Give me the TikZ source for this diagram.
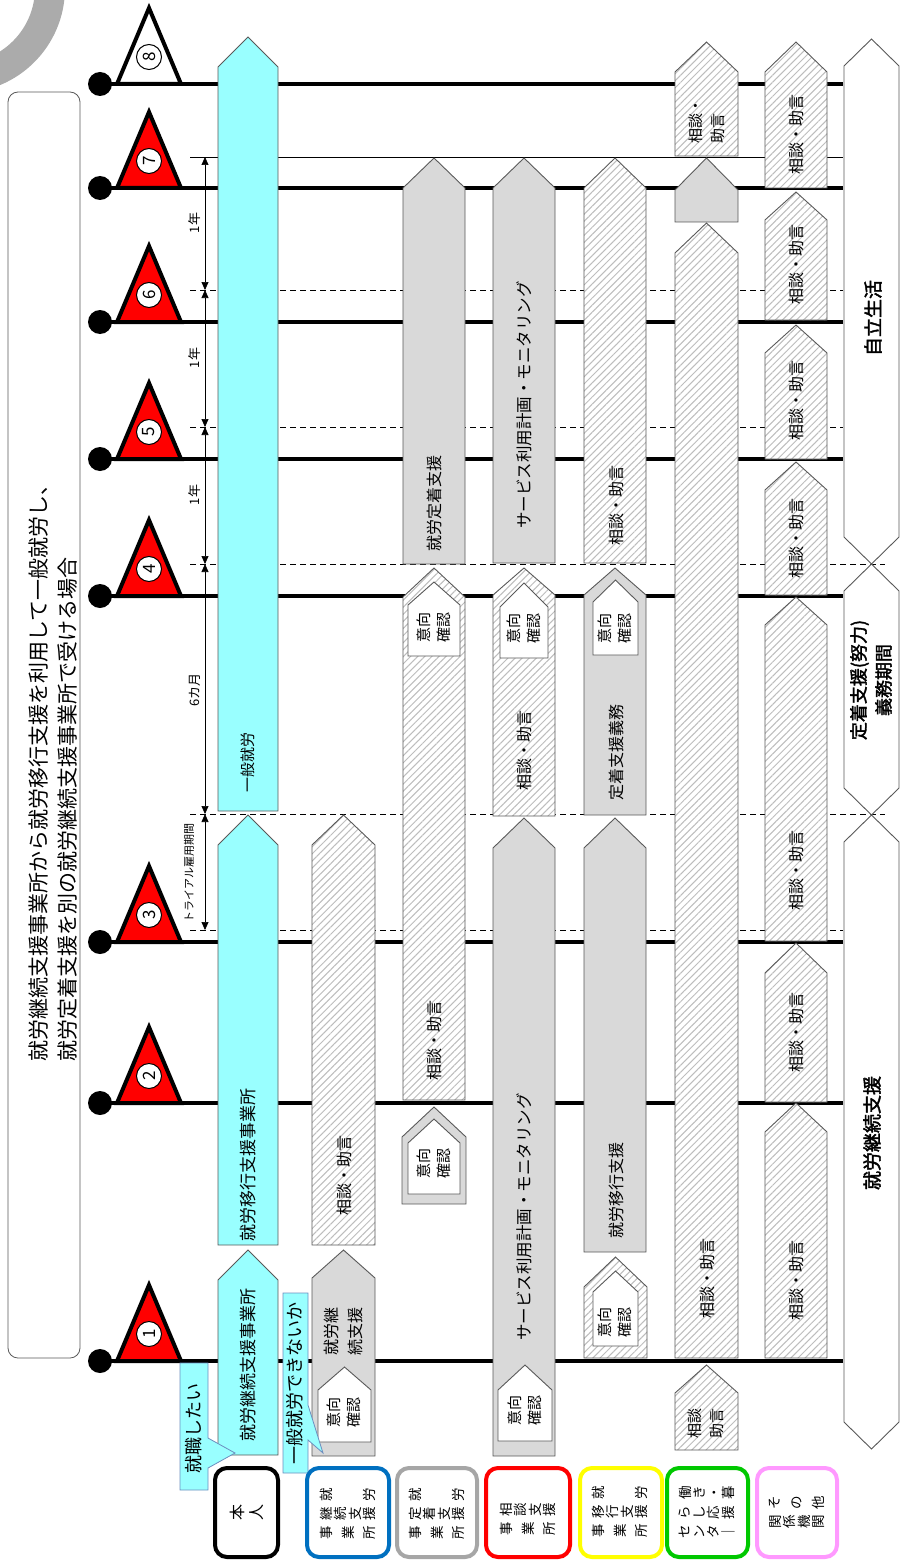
\documentclass[tikz,border=0pt]{standalone}
\usepackage{fontspec}
\setmainfont{Noto Sans CJK JP}[AutoFakeBold=2]
\usetikzlibrary{patterns.meta,arrows.meta}
\definecolor{cyanf}{HTML}{99FFFF}
\definecolor{grayf}{HTML}{D9D9D9}
\definecolor{edge}{HTML}{595959}
\definecolor{hatchc}{HTML}{BDBDBD}
\definecolor{callb}{HTML}{6C8EBF}
\definecolor{legblue}{HTML}{0070C0}
\definecolor{leggray}{HTML}{A6A6A6}
\definecolor{legred}{HTML}{FF0000}
\definecolor{legyellow}{HTML}{FFFF00}
\definecolor{leggreen}{HTML}{00C800}
\definecolor{legpink}{HTML}{FF99FF}
\definecolor{ringgray}{HTML}{ABABAB}
\newcommand\penta[6]{\path[#1] (#2,#6) -- (#2,#5) -- ({(#2+#3)/2},#4) -- (#3,#5) -- (#3,#6) -- cycle;}
\newcommand\hexa[5]{\path[#1] (#2,{#4+27}) -- ({(#2+#3)/2},#4) -- (#3,{#4+27}) -- (#3,{#5-27}) -- ({(#2+#3)/2},#5) -- (#2,{#5-27}) -- cycle;}
\newcommand\fs[2]{\fontsize{#1}{#2}\selectfont}
\begin{document}
\begin{tikzpicture}[x=1pt,y=-1pt,
  cy/.style={fill=cyanf, draw=edge, line width=0.9pt},
  gr/.style={fill=grayf, draw=edge, line width=0.9pt},
  ht/.style={preaction={fill=white}, pattern={Lines[angle=45,distance=5pt,line width=1pt]}, pattern color=hatchc, draw=edge, line width=0.9pt},
  wh/.style={fill=white, draw=edge, line width=0.9pt},
  hx/.style={fill=white, draw=edge, line width=0.9pt},
  callout/.style={fill=cyanf, draw=callb, line width=0.8pt},
  lbl/.style={rotate=90, inner sep=0pt, font=\fs{16}{19}},
  two/.style={rotate=90, inner sep=0pt, align=center, font=\fs{15}{20}},
  leg/.style={rotate=90, inner sep=0pt, align=center, font=\fs{13.5}{14.5}},
  legw/.style={rotate=90, inner sep=0pt, align=center, font=\fs{13.5}{21.75}},
  legbox/.style={line width=4pt, rounded corners=12pt, fill=white},
  thick/.style={line width=4.5pt},
  dashl/.style={line width=0.7pt, dash pattern=on 6pt off 4pt},
  tri/.style={line width=4pt, fill=red, line join=miter},
  numc/.style={circle, draw, line width=1pt, fill=white, minimum size=25pt, inner sep=0pt, rotate=90, font=\fs{17}{17}},
  dim/.style={{Triangle[length=8pt,width=7pt]}-{Triangle[length=8pt,width=7pt]}, line width=0.7pt},
  dimlbl/.style={rotate=90, inner sep=0pt, font=\fs{13}{15}}]
\useasboundingbox (0,0) rectangle (899,1562);
% decorative ring
\draw[ringgray, line width=30pt] (-40,-12) circle[radius=90pt];
% title
\draw[edge, line width=0.8pt, rounded corners=10pt] (8,92) rectangle (80,1358);
\node[rotate=90, anchor=west, align=left, inner sep=0pt, font=\fs{21}{29}] (title) at (53,1062)
  {就労継続支援事業所から就労移行支援を利用して一般就労し、\\就労定着支援を別の就労継続支援事業所で受ける場合};
% thin and dashed guide lines
\draw[line width=0.7pt] (190,157) -- (843,157);
\draw[dashl] (190,290) -- (843,290);
\draw[dashl] (190,427) -- (843,427);
\draw[dashl] (190,564) -- (885,564);
\draw[dashl] (190,814) -- (885,814);
\draw[dashl] (190,930) -- (843,930);
% timeline lines
\foreach \y in {84,188,322,459,596,942,1103,1361}{
  \draw[thick] (100,\y) -- (843,\y);
  \fill (100,\y) circle[radius=12pt];
}
\foreach \y/\n in {188/7,322/6,459/5,596/4,942/3,1103/2,1361/1}{
  \draw[tri] (117,\y) -- (149,{\y-76}) -- (181,\y) -- cycle;
  \node[numc] (n\n) at (149,{\y-27}) {\n};
}
\draw[tri, fill=white] (117,84) -- (149,8) -- (181,84) -- cycle;
\node[numc] (n8) at (149,57) {8};
% dimensions
\draw[dim] (205,157) -- (205,290);
\draw[dim] (205,290) -- (205,427);
\draw[dim] (205,427) -- (205,564);
\draw[dim] (205,564) -- (205,814);
\draw[dim] (205,814) -- (205,930);
\node[dimlbl] (d1) at (195,223) {1年};
\node[dimlbl] (d2) at (195,358) {1年};
\node[dimlbl] (d3) at (195,495) {1年};
\node[dimlbl] (d4) at (195,690) {6カ月};
\node[dimlbl, font=\fs{11}{12}] (d5) at (189,873) {トライアル雇用期間};
% column A (cyan)
\penta{cy}{218}{278}{1250}{1280}{1455}
\node[lbl, font=\fs{17}{20}] (tA1) at (248,1365) {就労継続支援事業所};
\penta{cy}{218}{278}{815}{845}{1245}
\node[lbl, font=\fs{17}{20}] (tA2) at (248,1165) {就労移行支援事業所};
\penta{cy}{218}{278}{37}{67}{811}
\node[lbl, font=\fs{15}{18}] (tA3) at (248,762) {一般就労};
% column B
\penta{gr}{312}{375}{1250}{1278}{1456}
\penta{wh}{318}{371}{1367}{1390}{1442}
\node[rotate=90, inner sep=0pt, align=center, font=\fs{16}{24}] (tB1) at (343,1331) {就労継\\続支援};
\node[two] (iB1) at (344,1412) {意向\\確認};
\penta{ht}{312}{375}{815}{845}{1245}
\node[lbl] (tB2) at (344,1175) {相談・助言};
% column C
\penta{gr}{402}{466}{1107}{1137}{1204}
\penta{wh}{408}{460}{1119}{1143}{1194}
\node[two] (iC1) at (434,1163) {意向\\確認};
\penta{ht}{403}{465}{568}{597}{1100}
\penta{wh}{408}{460}{582}{605}{656}
\node[two] (iC2) at (434,627) {意向\\確認};
\node[lbl] (tC2) at (434,1040) {相談・助言};
\penta{gr}{403}{465}{158}{188}{564}
\node[lbl] (tC3) at (434,503) {就労定着支援};
% column D
\penta{gr}{493}{555}{818}{848}{1456}
\penta{wh}{498}{552}{1365}{1390}{1441}
\node[two] (iD1) at (525,1410) {意向\\確認};
\node[lbl, font=\fs{16.5}{19}] (tD1) at (524,1217) {サービス利用計画・モニタリング};
\penta{ht}{493}{555}{568}{595}{816}
\penta{wh}{500}{548}{583}{607}{658}
\node[two] (iD2) at (524,628) {意向\\確認};
\node[lbl] (tD2) at (524,750) {相談・助言};
\penta{gr}{493}{555}{158}{188}{563}
\node[lbl, font=\fs{16.5}{19}] (tD3) at (524,405) {サービス利用計画・モニタリング};
% column E
\penta{ht}{584}{647}{1257}{1287}{1358}
\penta{wh}{593}{638}{1271}{1292}{1346}
\node[two] (iE1) at (615,1322) {意向\\確認};
\penta{gr}{584}{646}{818}{848}{1252}
\node[lbl] (tE2) at (616,1190) {就労移行支援};
\penta{gr}{584}{646}{568}{595}{815}
\penta{wh}{593}{638}{580}{602}{655}
\node[two] (iE3) at (615,628) {意向\\確認};
\node[lbl] (tE3) at (616,752) {定着支援義務};
\penta{ht}{584}{646}{158}{188}{563}
\node[lbl] (tE4) at (616,505) {相談・助言};
% column F
\penta{ht}{675}{738}{1365}{1393}{1450}
\node[two, font=\fs{15}{22}] (tF1) at (706,1423) {相談\\助言};
\penta{ht}{675}{738}{223}{253}{1358}
\node[lbl] (tF2) at (707,1278) {相談・助言};
\penta{gr}{675}{738}{158}{190}{222}
\penta{ht}{675}{738}{42}{72}{156}
\node[rotate=90, inner sep=0pt, align=left, anchor=west, font=\fs{15}{22}] (tF4) at (707,144) {相談・\\助言};
% column G
\foreach \a/\s/\b/\t [count=\i] in {42/72/188/135, 192/220/320/264, 325/353/459/400, 462/490/595/538, 597/625/941/870, 943/973/1102/1032, 1103/1132/1358/1280}{
  \penta{ht}{765}{827}{\a}{\s}{\b}
  \node[lbl] (tG\i) at (796,\t) {相談・助言};
}
% column H (phases)
\hexa{hx}{844}{899}{39}{564}
\node[rotate=90, inner sep=0pt, font=\fs{19}{22}\bfseries] (pH1) at (873,318) {自立生活};
\hexa{hx}{844}{899}{564}{815}
\node[rotate=90, inner sep=0pt, align=center, font=\fs{18}{25}\bfseries] (pH2) at (871,680) {定着支援(努力)\\義務期間};
\hexa{hx}{844}{899}{815}{1449}
\node[rotate=90, inner sep=0pt, font=\fs{19}{22}\bfseries] (pH3) at (872,1133) {就労継続支援};
% callouts
\path[callout] (180,1363) -- (208,1363) -- (208,1438) -- (235,1453) -- (208,1468) -- (208,1490) -- (180,1490) -- cycle;
\node[lbl, font=\fs{18}{20}] (c1) at (194,1428) {就職したい};
\path[callout] (283,1293) -- (308,1293) -- (308,1405) -- (323,1453) -- (308,1440) -- (308,1473) -- (283,1473) -- cycle;
\node[lbl, font=\fs{18}{20}] (c2) at (295,1383) {一般就労できないか};
% legend
\draw[legbox, draw=black] (215,1468) rectangle (278,1557);
\node[leg, font=\fs{16}{19}] (L0) at (247,1512) {本\\人};
\draw[legbox, draw=legblue] (307,1468) rectangle (389,1557);
\node[leg] (L1a) at (348,1495) {就\\　\\　\\労};
\node[leg] (L1b) at (348,1514) {継\\続\\支\\援};
\node[legw] (L1c) at (348,1533) {事\\業\\所};
\draw[legbox, draw=leggray] (397,1468) rectangle (477,1557);
\node[leg] (L2a) at (437,1495) {就\\　\\　\\労};
\node[leg] (L2b) at (437,1514) {定\\着\\支\\援};
\node[legw] (L2c) at (437,1533) {事\\業\\所};
\draw[legbox, draw=legred] (486,1468) rectangle (570,1557);
\node[leg] (L3a) at (528,1510) {相\\談\\支\\援};
\node[legw] (L3b) at (528,1529) {事\\業\\所};
\draw[legbox, draw=legyellow] (580,1468) rectangle (662,1557);
\node[leg] (L4a) at (620,1493) {就\\　\\　\\労};
\node[leg] (L4b) at (620,1512) {移\\行\\支\\援};
\node[legw] (L4c) at (620,1531) {事\\業\\所};
\draw[legbox, draw=leggreen] (667,1468) rectangle (748,1557);
\node[leg] (L5a) at (707,1493) {働\\き\\・\\暮};
\node[leg] (L5b) at (707,1513) {ら\\し\\応\\援};
\node[leg] (L5c) at (707,1532) {セ\\ン\\タ\\｜};
\draw[legbox, draw=legpink] (757,1468) rectangle (837,1557);
\node[legw] (L6a) at (797,1503) {そ\\の\\他};
\node[leg] (L6b) at (797,1522) {関\\係\\機\\関};
\end{tikzpicture}
\end{document}
